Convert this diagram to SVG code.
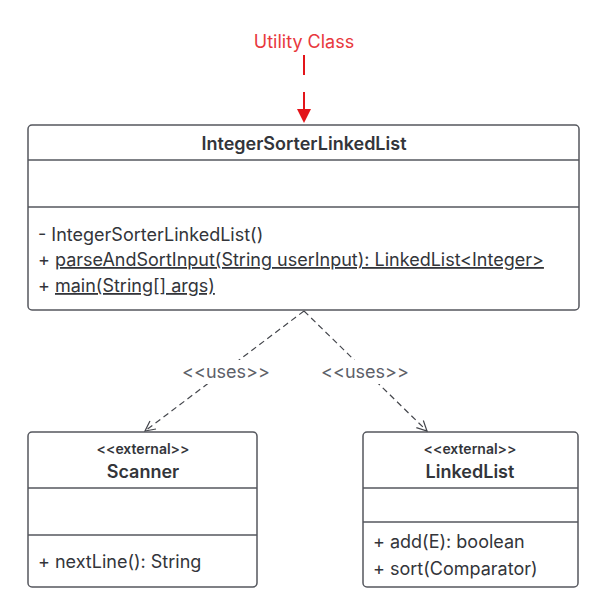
<svg xmlns="http://www.w3.org/2000/svg" width="610" height="615" viewBox="0 0 610 615">
<defs>
<style>
.box{fill:#fff;stroke:#55575e;stroke-width:1.5}
.div{stroke:#55575e;stroke-width:1.5}
text{font-family:Inter,"Noto Sans",sans-serif;fill:#33353a}
.title{font-size:18px;font-weight:600;text-anchor:middle}
.stereo{font-size:14px;font-weight:600;text-anchor:middle}
.m{font-size:18px}
.lbl{font-size:18px;fill:#5d6068;text-anchor:middle}
.conn{fill:none;stroke:#44464c;stroke-width:1.2;stroke-dasharray:6 4}
</style>
<marker id="open" viewBox="0 0 12 12" refX="11" refY="6" markerWidth="12" markerHeight="12" markerUnits="userSpaceOnUse" orient="auto">
<path d="M1,1 L11,6 L1,11" fill="none" stroke="#44464c" stroke-width="1.2"/>
</marker>
<marker id="red" viewBox="0 0 14 14" refX="13" refY="7" markerWidth="14" markerHeight="14" markerUnits="userSpaceOnUse" orient="auto">
<path d="M0,0 L14,7 L0,14 Z" fill="#e3151a"/>
</marker>
</defs>
<g id="note">
<text x="304" y="48" style="font-size:18px;fill:#e8383d;text-anchor:middle">Utility Class</text>
<line x1="304" y1="55" x2="304" y2="122" stroke="#e3151a" stroke-width="2" stroke-dasharray="20 17" marker-end="url(#red)"/>
</g>
<g id="IntegerSorterLinkedList">
<rect class="box" x="28" y="125" width="551" height="185" rx="4"/>
<line class="div" x1="28" y1="160" x2="579" y2="160"/>
<line class="div" x1="28" y1="207" x2="579" y2="207"/>
<text class="title" x="304" y="150">IntegerSorterLinkedList</text>
<text class="m" x="38" y="241">- IntegerSorterLinkedList()</text>
<text class="m" x="38" y="266">+ <tspan text-decoration="underline">parseAndSortInput(String userInput): LinkedList&lt;Integer&gt;</tspan></text>
<text class="m" x="38" y="292">+ <tspan text-decoration="underline">main(String[] args)</tspan></text>
</g>
<g id="Scanner">
<rect class="box" x="28" y="432" width="229" height="155" rx="4"/>
<line class="div" x1="28" y1="488" x2="257" y2="488"/>
<line class="div" x1="28" y1="535" x2="257" y2="535"/>
<text class="stereo" x="143" y="454">&lt;&lt;external&gt;&gt;</text>
<text class="title" x="143" y="478">Scanner</text>
<text class="m" x="38" y="568">+ nextLine(): String</text>
</g>
<g id="LinkedList">
<rect class="box" x="363" y="432" width="215" height="155" rx="4"/>
<line class="div" x1="363" y1="488" x2="578" y2="488"/>
<line class="div" x1="363" y1="522" x2="578" y2="522"/>
<text class="stereo" x="470" y="454">&lt;&lt;external&gt;&gt;</text>
<text class="title" x="470" y="478">LinkedList</text>
<text class="m" x="373" y="548">+ add(E): boolean</text>
<text class="m" x="373" y="575">+ sort(Comparator)</text>
</g>
<g id="connectors">
<path class="conn" d="M304,311 L145,431" marker-end="url(#open)"/>
<path class="conn" d="M304,311 L427,431" marker-end="url(#open)"/>
<rect x="180" y="360" width="92" height="24" fill="#fff"/>
<rect x="318" y="360" width="94" height="24" fill="#fff"/>
<text class="lbl" x="226" y="378">&lt;&lt;uses&gt;&gt;</text>
<text class="lbl" x="365" y="378">&lt;&lt;uses&gt;&gt;</text>
</g>
</svg>
